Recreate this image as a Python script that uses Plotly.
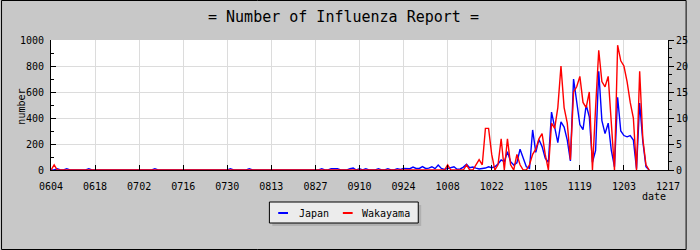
import pandas as pd
import plotly.graph_objects as go

# ---------------- data (daily, from 2009-06-04) ----------------
start_date = "2009-06-04"
x_tick_start = "2009-06-04"
x_range = ["2009-06-04", "2009-12-17"]

japan = [
    0, 0, 10, 0, 0, 10, 0, 0, 0, 0,
    0, 0, 10, 0, 0, 0, 0, 0, 0, 0,
    0, 0, 0, 0, 0, 0, 0, 0, 0, 0,
    0, 0, 0, 10, 0, 0, 0, 0, 0, 0,
    0, 0, 0, 0, 0, 0, 0, 0, 0, 0,
    0, 0, 0, 0, 0, 0, 0, 10, 0, 0,
    0, 0, 0, 10, 0, 0, 0, 0, 0, 0,
    0, 0, 0, 0, 0, 0, 0, 0, 0, 0,
    0, 0, 0, 0, 0, 0, 10, 0, 0, 10,
    10, 10, 0, 0, 0, 10, 15, 0, 10, 0,
    10, 0, 0, 0, 10, 0, 0, 10, 0, 0,
    10, 5, 12, 12, 10, 22, 12, 12, 26, 12,
    14, 25, 10, 38, 12, 5, 13, 22, 25, 6,
    8, 22, 44, 18, 23, 15, 8, 12, 15, 25,
    18, 25, 46, 77, 64, 141, 64, 38, 55, 160,
    90, 25, 12, 308, 135, 235, 180, 90, 60, 445,
    330, 210, 370, 330, 230, 70, 700, 520, 350, 310,
    500, 410, 60, 150, 760, 380, 280, 360, 150, 25,
    560, 300, 265, 255, 265, 230, 10, 515, 220, 25,
    0,
]

wakayama = [
    0, 1, 0, 0, 0, 0, 0, 0, 0, 0,
    0, 0, 0, 0, 0, 0, 0, 0, 0, 0,
    0, 0, 0, 0, 0, 0, 0, 0, 0, 0,
    0, 0, 0, 0, 0, 0, 0, 0, 0, 0,
    0, 0, 0, 0, 0, 0, 0, 0, 0, 0,
    0, 0, 0, 0, 0, 0, 0, 0, 0, 0,
    0, 0, 0, 0, 0, 0, 0, 0, 0, 0,
    0, 0, 0, 0, 0, 0, 0, 0, 0, 0,
    0, 0, 0, 0, 0, 0, 0, 0, 0, 0,
    0, 0, 0, 0, 0, 0, 0, 0, 0, 0,
    0, 0, 0, 0, 0, 0, 0, 0, 0, 0,
    0, 0, 0, 0, 0, 0, 0, 0, 0, 0,
    0, 0, 0, 0, 0, 0, 1, 0, 0, 0,
    0, 0, 1, 0, 0, 1, 2, 1, 8, 8,
    3, 0, 1, 6, 0, 6, 1, 0, 3, 1,
    0, 0, 1, 3, 4, 6, 7, 3, 0, 9,
    8, 12, 20, 12, 9, 2, 15, 16, 18, 13,
    12, 15, 0, 12, 23, 17, 16, 18, 8, 0,
    24, 21, 20, 17, 13, 10, 0, 19, 6, 1,
    0,
]

series_names = ["Japan", "Wakayama"]
series_colors = ["#0000ff", "#ff0000"]
title_text = "= Number of Influenza Report ="
y_title = "number"
x_title = "date"

dates = pd.date_range(start_date, periods=len(japan), freq="D")

# ---------------- layout geometry (pixels) ----------------
FW, FH = 700, 250
L, T, W, H = 51, 40, 630, 130
R = FW - L - W
B = FH - T - H


def px(x):
    return (x - L) / W


def py(y):
    return (T + H - y) / H


MONO = "DejaVu Sans Mono"

fig = go.Figure()
fig.add_trace(go.Scatter(x=dates, y=japan, name=series_names[0], mode="lines",
                         line=dict(color=series_colors[0], width=1.4),
                         yaxis="y", showlegend=False))
fig.add_trace(go.Scatter(x=dates, y=wakayama, name=series_names[1], mode="lines",
                         line=dict(color=series_colors[1], width=1.4),
                         yaxis="y2", showlegend=False))

grid = "#dcdcdc"
fig.update_layout(
    width=FW, height=FH,
    margin=dict(l=L, r=R, t=T, b=B, pad=0),
    paper_bgcolor="#c8c8c8",
    plot_bgcolor="#ffffff",
    font=dict(family=MONO, size=10, color="#000000"),
    showlegend=False,
    xaxis=dict(
        type="date", range=x_range, tick0=x_tick_start, dtick=14 * 86400000,
        tickformat="%m%d", ticks="inside", ticklen=5, tickcolor="#000000",
        showgrid=True, gridcolor=grid, gridwidth=1,
        showline=True, linecolor="#000000", linewidth=1,
        zeroline=False, tickfont=dict(family=MONO, size=10),
        ticklabelstandoff=7,
    ),
    yaxis=dict(
        range=[0, 1000], dtick=200, ticks="inside", ticklen=5, tickcolor="#000000",
        minor=dict(dtick=100, ticks="inside", ticklen=3, tickcolor="#000000", showgrid=False),
        showgrid=True, gridcolor=grid, gridwidth=1,
        showline=True, linecolor="#000000", linewidth=1,
        zeroline=False, tickfont=dict(family=MONO, size=10),
        ticklabelstandoff=4,
    ),
    yaxis2=dict(
        overlaying="y", side="right", range=[0, 25], dtick=5,
        ticks="outside", ticklen=5, tickcolor="#000000",
        minor=dict(dtick=5 / 3, ticks="outside", ticklen=3, tickcolor="#000000", showgrid=False),
        showgrid=False, showline=True, linecolor="#000000", linewidth=1,
        zeroline=False, tickfont=dict(family=MONO, size=10),
    ),
)

shapes = []
annotations = []

# outer frame
shapes.append(dict(type="rect", xref="paper", yref="paper",
                   x0=px(0.5), x1=px(FW - 0.5), y0=py(0.5), y1=py(FH - 0.5),
                   line=dict(color="#000000", width=1), fillcolor="rgba(0,0,0,0)"))

# title
annotations.append(dict(text=title_text, xref="paper", yref="paper",
                        x=px(350), y=py(17), xanchor="center", yanchor="middle",
                        showarrow=False, font=dict(family=MONO, size=15, color="#000000")))
# axis titles
annotations.append(dict(text=y_title, xref="paper", yref="paper",
                        x=px(20), y=py(107), xanchor="center", yanchor="middle",
                        textangle=-90, showarrow=False,
                        font=dict(family=MONO, size=10, color="#000000")))
annotations.append(dict(text=x_title, xref="paper", yref="paper",
                        x=px(681), y=py(196), xanchor="right", yanchor="middle",
                        showarrow=False, font=dict(family=MONO, size=10, color="#000000")))

# manual legend
lx0, lx1, ly0, ly1 = 274, 426, 202, 223
shapes.append(dict(type="rect", xref="paper", yref="paper",
                   x0=px(lx0 + 3), x1=px(lx1 + 3), y0=py(ly0 + 3), y1=py(ly1 + 3),
                   line=dict(width=0), fillcolor="#b0b0b0"))
shapes.append(dict(type="rect", xref="paper", yref="paper",
                   x0=px(lx0), x1=px(lx1), y0=py(ly0), y1=py(ly1),
                   line=dict(color="#000000", width=1), fillcolor="#ececec"))
leg_items = [(283, 293, 302), (349, 359, 367)]
for (a, b, t), name, col in zip(leg_items, series_names, series_colors):
    shapes.append(dict(type="line", xref="paper", yref="paper",
                       x0=px(a), x1=px(b), y0=py(213), y1=py(213),
                       line=dict(color=col, width=2)))
    annotations.append(dict(text=name, xref="paper", yref="paper",
                            x=px(t), y=py(213), xanchor="left", yanchor="middle",
                            showarrow=False, font=dict(family=MONO, size=10, color="#000000")))

fig.update_layout(shapes=shapes, annotations=annotations)
fig.write_html("out.html")
